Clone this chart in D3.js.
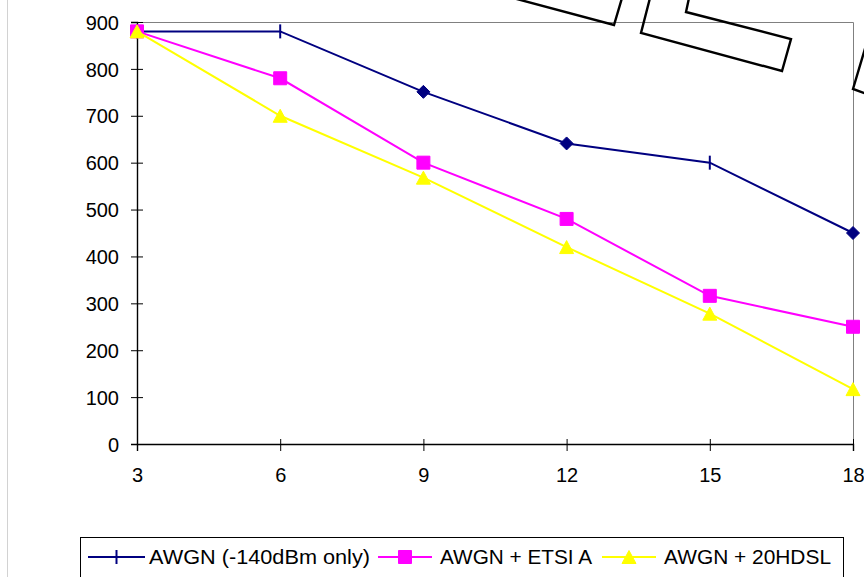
<!DOCTYPE html>
<html>
<head>
<meta charset="utf-8">
<script src="https://cdn.jsdelivr.net/npm/d3@7"></script>
<style>
  html, body { margin: 0; padding: 0; background: #fff; }
  svg { display: block; }
  text { font-family: Arial, "Liberation Sans", sans-serif; }
</style>
</head>
<body>
<script>
// ---- data ----
const xValues = [3, 6, 9, 12, 15, 18];
const yTicks = [0, 100, 200, 300, 400, 500, 600, 700, 800, 900];
const seriesNames = ["AWGN (-140dBm only)", "AWGN + ETSI A", "AWGN + 20HDSL"];
const awgnOnly = [880, 880, 751, 641, 600, 450];
const awgnEtsiA = [880, 780, 600, 480, 316, 250];
const awgn20Hdsl = [880, 700, 568, 420, 278, 117];
// per-point marker kinds of the first series (as in the original picture)
const awgnOnlyMarkers = ["bar", "bar", "diamond", "diamond", "bar", "diamond"];

// decorative outlines that cross the top edge of the original picture
const decorations = [
  [[513, -2], [614, 25], [622, -2]],
  [[650, -2], [641, 33], [782, 71], [791, 39], [686, 12], [689, -2]],
  [[867, 42], [853, 89], [867, 94]]
];

const W = 864, H = 577;
const svg = d3.select("body").append("svg").attr("width", W).attr("height", H);

const x = d3.scaleLinear().domain([3, 18]).range([137, 853]);
const y = d3.scaleLinear().domain([0, 900]).range([444, 22]);

// faint left page edge
svg.append("line").attr("x1", 7.5).attr("x2", 7.5).attr("y1", 0).attr("y2", H)
  .attr("stroke", "#d2d2d2").attr("stroke-width", 1);

// plot-area border (top and right)
svg.append("path")
  .attr("d", `M${x(3)},${y(900) + 0.5}H${x(18) + 0.5}V${y(0)}`)
  .attr("fill", "none").attr("stroke", "#808080").attr("stroke-width", 1);

// axes
const yAxis = d3.axisLeft(y).tickValues(yTicks).tickSize(6).tickPadding(12);
const gy = svg.append("g").attr("transform", `translate(${x(3)},0)`).call(yAxis);
gy.attr("font-size", null).attr("font-family", null);
gy.select(".domain").attr("stroke", "#000").attr("stroke-width", 1.4);
gy.selectAll(".tick line").attr("x1", 6).attr("stroke", "#000");
gy.selectAll(".tick text").attr("font-size", 20).attr("fill", "#000")
  .attr("font-family", "Arial, 'Liberation Sans', sans-serif").attr("dy", "0.36em");

const xAxis = d3.axisBottom(x).tickValues(xValues).tickSize(7).tickPadding(17);
const gx = svg.append("g").attr("transform", `translate(0,${y(0)})`).call(xAxis);
gx.attr("font-size", null).attr("font-family", null);
gx.select(".domain").attr("stroke", "#000").attr("stroke-width", 1.4);
gx.selectAll(".tick line").attr("y1", -5).attr("stroke", "#000");
gx.selectAll(".tick text").attr("font-size", 20).attr("fill", "#000")
  .attr("font-family", "Arial, 'Liberation Sans', sans-serif").attr("dy", "0.71em");

// marker shapes
function markerPath(kind, s) {
  const h = s / 2;
  if (kind === "square") return `M${-h},${-h}H${h}V${h}H${-h}Z`;
  if (kind === "diamond") return `M0,${-h}L${h},0L0,${h}L${-h},0Z`;
  if (kind === "triangle") return `M0,${-h + 0.5}L${h},${h - 0.5}L${-h},${h - 0.5}Z`;
  if (kind === "bar") return `M0,${-h}V${h}`;
  return "";
}

const series = [
  { name: seriesNames[0], values: awgnOnly, color: "#000080", markers: awgnOnlyMarkers, legendMarker: "bar" },
  { name: seriesNames[1], values: awgnEtsiA, color: "#FF00FF", markers: xValues.map(() => "square"), legendMarker: "square" },
  { name: seriesNames[2], values: awgn20Hdsl, color: "#FFFF00", markers: xValues.map(() => "triangle"), legendMarker: "triangle" }
];

const line = d3.line().x(d => x(d[0])).y(d => y(d[1]));

function drawMarker(g, kind, color, cx, cy) {
  const p = g.append("path").attr("transform", `translate(${cx},${cy})`);
  if (kind === "bar") {
    p.attr("d", markerPath("bar", 14)).attr("stroke", color).attr("stroke-width", 2).attr("fill", "none");
  } else {
    p.attr("d", markerPath(kind, kind === "triangle" ? 14 : 13)).attr("fill", color).attr("stroke", color).attr("stroke-width", 1);
  }
}

series.forEach(s => {
  const g = svg.append("g");
  const pts = xValues.map((xv, i) => [xv, s.values[i]]);
  g.append("path").attr("d", line(pts)).attr("fill", "none")
    .attr("stroke", s.color).attr("stroke-width", 2);
  pts.forEach((p, i) => drawMarker(g, s.markers[i], s.color, x(p[0]), y(p[1])));
});

// decorations
decorations.forEach(pts => {
  svg.append("path").attr("d", d3.line()(pts)).attr("fill", "none")
    .attr("stroke", "#000").attr("stroke-width", 2.4).attr("stroke-linejoin", "miter");
});

// legend
const legend = svg.append("g");
legend.append("rect").attr("x", 80.5).attr("y", 537.5).attr("width", 763).attr("height", 60)
  .attr("fill", "#fff").attr("stroke", "#000").attr("stroke-width", 1);
const legendItems = [
  { x1: 88, x2: 145, tx: 149, len: 221 },
  { x1: 378, x2: 432, tx: 440, len: 152 },
  { x1: 602, x2: 656, tx: 664, len: 167 }
];
series.forEach((s, i) => {
  const it = legendItems[i];
  const ly = 557;
  legend.append("line").attr("x1", it.x1).attr("x2", it.x2).attr("y1", ly).attr("y2", ly)
    .attr("stroke", s.color).attr("stroke-width", 2);
  drawMarker(legend, s.legendMarker, s.color, (it.x1 + it.x2) / 2, ly);
  legend.append("text").attr("x", it.tx).attr("y", 564).attr("font-size", 21).attr("fill", "#000")
    .attr("textLength", it.len).attr("lengthAdjust", "spacingAndGlyphs")
    .text(s.name);
});
</script>
</body>
</html>
